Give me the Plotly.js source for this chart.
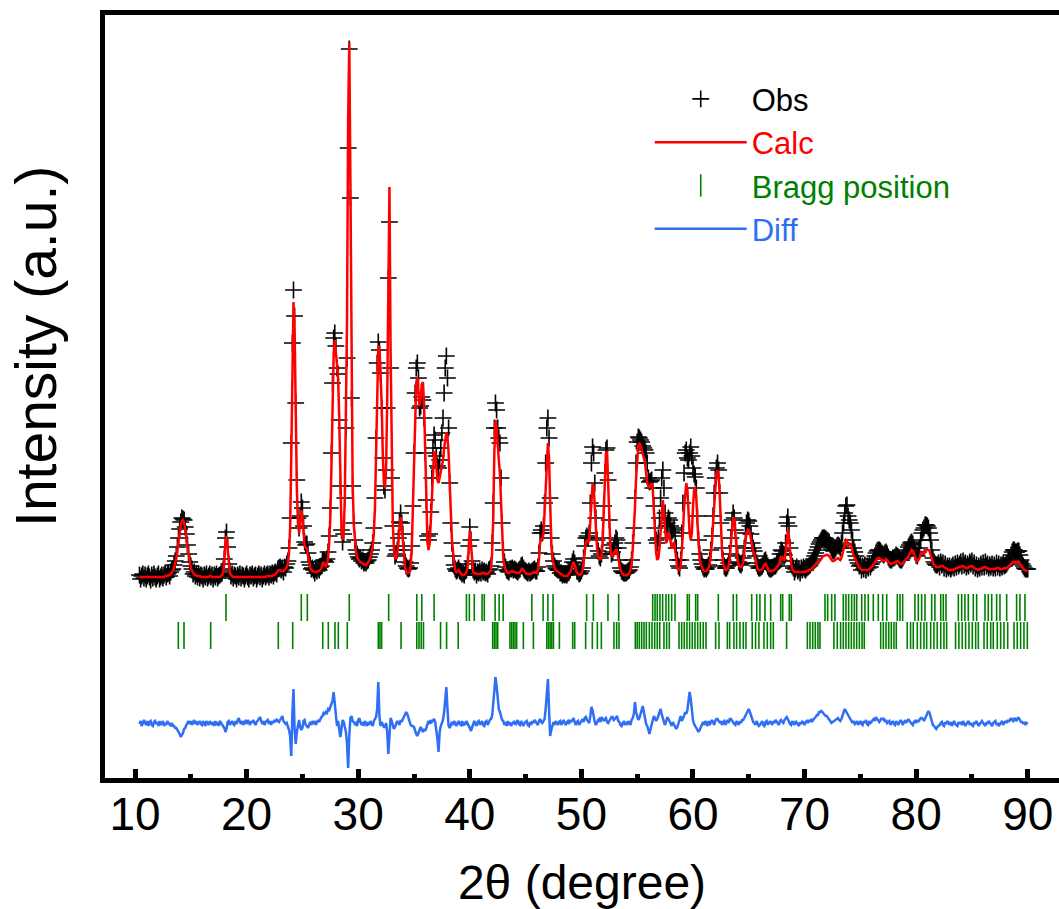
<!DOCTYPE html>
<html><head><meta charset="utf-8">
<script src="https://cdn.plot.ly/plotly-3.0.1.min.js"></script>
<style>html,body{margin:0;padding:0;background:#fff}#chart{width:1059px;height:909px}</style>
</head><body><div id="chart"></div>
<script>
// 2-theta scan: first angle and step (degrees)
const thetaStart = 10.4;
const thetaStep = 0.1;

// Calculated profile (a.u.), one value per step, rows = 1 degree
const calcI = [
1,1,1,1,1,1,
1,1,1,1,1,1,1,1,1,1,
1,1,1,1,1,1,1,2,2,2,
3,3,4,5,7,10,14,20,28,37,
46,53,57,58,56,50,41,31,22,15,
10,7,5,4,3,2,2,2,2,1,
1,1,1,1,1,1,1,2,2,1,
1,1,1,1,1,1,1,2,3,6,
16,36,42,30,12,5,3,2,1,1,
1,1,1,1,1,1,1,1,1,1,
1,1,1,1,1,1,1,1,1,1,
1,1,1,1,1,1,1,1,2,2,
2,2,2,2,3,3,4,5,7,8,
8,7,7,7,8,9,11,15,25,50,
120,220,276,250,165,90,55,45,55,68,
62,45,32,30,30,22,14,10,8,7,
6,6,6,6,7,7,8,10,14,16,
13,12,14,20,35,60,110,170,225,238,
225,205,200,160,95,50,38,45,80,160,
260,460,535,400,200,95,55,36,26,21,
18,17,16,15,14,13,13,13,14,16,
18,21,25,32,45,70,120,190,230,232,
210,175,125,95,90,110,180,320,391,230,
110,55,30,20,20,25,36,52,61,52,
38,20,10,7,5,5,6,12,30,70,
120,170,195,201,190,172,180,194,196,175,
130,75,38,28,34,55,85,115,127,125,
110,98,95,100,108,112,118,130,140,145,
142,125,95,60,38,26,14,8,6,7,
8,6,4,3,3,3,4,6,10,28,
48,35,14,6,5,5,4,4,4,4,
4,5,5,5,4,4,4,5,6,8,
25,60,125,158,150,130,118,105,75,40,
20,12,8,6,5,5,6,7,7,6,
6,6,5,5,5,6,8,10,8,6,
5,4,4,4,4,4,5,6,6,5,
5,8,18,35,40,38,45,65,95,125,
135,120,70,35,20,14,10,8,7,6,
5,4,3,2,2,2,2,2,3,4,
6,9,13,16,13,8,5,4,3,3,
4,8,16,28,36,38,35,38,55,80,
94,92,70,45,30,22,19,18,20,35,
65,100,125,127,95,55,30,21,22,24,
27,28,27,22,14,8,5,4,3,3,
3,3,4,5,8,14,28,45,70,100,
122,132,135,133,128,125,120,115,105,95,
92,90,93,95,88,65,40,25,18,20,
30,50,70,78,65,45,35,38,45,42,
35,30,33,36,28,18,10,8,8,12,
25,45,70,88,95,88,65,45,38,45,
70,88,91,80,55,32,20,14,10,8,
7,7,7,8,10,14,22,35,55,75,
92,104,108,103,82,52,28,15,10,8,
8,9,12,20,35,52,61,58,45,28,
18,13,11,11,12,16,25,38,46,48,
48,45,38,30,26,24,18,12,9,8,
8,8,9,11,14,15,12,9,7,7,
7,7,8,8,9,10,12,14,18,21,
21,18,17,25,40,48,42,25,14,9,
7,6,6,6,6,6,6,6,6,6,
6,6,7,7,8,8,9,10,11,12,
13,14,15,16,17,19,21,22,23,23,
23,23,22,20,18,17,17,18,19,20,
20,19,18,20,25,30,35,38,37,32,
33,35,32,26,22,20,18,15,12,10,
9,8,8,8,8,8,8,8,9,10,
11,12,14,16,18,19,20,20,19,18,
17,17,18,19,18,16,15,14,14,15,
15,16,17,17,16,15,14,14,15,17,
18,19,20,22,24,26,28,27,24,20,
17,16,18,20,24,26,25,24,26,28,
28,28,27,24,19,15,13,12,11,11,
11,11,12,12,12,11,10,9,9,8,
8,8,8,8,9,9,10,10,11,11,
11,12,12,11,10,10,10,11,12,12,
12,11,10,9,9,8,8,9,9,10,
10,11,11,10,10,9,9,9,9,9,
9,9,10,10,10,9,9,9,9,10,
10,10,11,12,13,14,15,16,16,15,
16,16,16,14,12,10,9,8,7,7,
7
];

// Observed intensities (a.u.)
const obsI = [
3,-1,2,4,0,3,
-1,2,4,1,-2,3,0,4,1,-1,
2,4,-1,1,3,0,3,5,1,4,
5,2,6,8,9,13,17,22,31,40,
49,56,60,59,58,51,44,33,24,16,
12,9,4,6,2,4,1,4,0,3,
2,-1,3,1,4,0,2,4,1,3,
-1,3,1,4,0,2,3,4,5,9,
19,40,46,31,14,7,2,4,0,3,
2,-1,3,1,4,0,3,2,-1,2,
4,1,-1,3,2,4,0,2,3,-1,
2,4,1,3,-1,2,4,1,3,4,
1,4,3,5,2,5,6,4,9,10,
11,8,10,6,11,10,14,17,30,60,
135,235,288,262,175,98,60,50,62,76,
70,52,36,33,34,25,16,13,9,10,
8,5,9,7,10,8,11,12,17,18,
17,16,19,26,42,70,125,195,240,245,
232,210,204,158,92,48,36,44,80,150,
220,430,529,380,180,92,55,38,28,24,
21,19,20,17,18,15,16,15,17,18,
21,24,28,35,50,80,140,215,236,228,
205,170,120,92,88,108,170,300,356,210,
100,52,32,22,24,28,40,56,65,55,
44,28,16,12,10,9,10,15,32,72,
125,185,210,215,200,170,172,181,178,160,
125,78,42,38,44,66,100,130,143,138,
122,112,110,118,130,145,160,185,210,222,
200,150,95,55,35,22,13,9,7,8,
10,7,6,4,5,3,7,8,14,32,
51,38,17,8,6,7,3,6,5,7,
5,8,6,7,5,6,4,8,9,12,
35,75,150,175,168,150,140,135,100,55,
28,16,11,8,7,6,9,9,10,8,
9,8,7,6,8,9,12,13,10,8,
7,6,5,7,5,6,7,8,9,7,
7,11,25,45,48,45,52,75,115,150,
160,140,80,40,24,17,12,10,9,8,
8,5,5,3,4,3,4,3,5,6,
8,12,16,19,15,11,7,6,4,5,
7,10,20,32,40,42,40,45,75,115,
131,125,95,60,38,27,22,20,24,40,
72,105,128,130,98,58,33,24,26,30,
35,40,38,30,18,10,7,6,5,5,
5,6,7,8,11,18,35,50,80,115,
136,141,140,138,136,132,130,128,125,115,
100,96,97,98,90,72,50,38,35,40,
60,80,100,108,90,65,52,55,60,58,
52,46,48,50,42,30,18,12,10,18,
45,75,105,125,128,120,118,125,131,122,
110,104,101,90,62,38,24,18,14,11,
9,10,9,11,13,18,28,42,62,85,
100,110,115,108,85,55,30,18,12,10,
10,12,15,24,40,58,65,60,48,32,
22,16,14,13,15,20,30,45,55,58,
57,52,44,35,30,27,22,15,12,10,
10,11,12,14,17,18,15,12,10,9,
9,10,11,12,12,14,16,18,24,28,
27,24,23,35,55,61,52,30,17,12,
10,6,9,11,7,9,5,10,8,11,
9,8,10,11,12,13,15,17,19,22,
25,28,31,34,36,38,40,40,40,39,
38,37,36,33,30,28,27,28,30,32,
33,32,30,35,45,55,65,72,73,62,
58,55,48,38,30,26,22,18,15,12,
13,8,12,9,13,8,12,10,14,11,
14,16,19,22,25,27,28,28,27,25,
24,23,25,26,24,21,19,18,18,20,
20,21,23,22,21,19,18,18,20,22,
24,26,28,31,33,35,36,34,30,26,
23,22,26,30,38,45,48,50,53,53,
52,50,45,38,28,20,16,14,13,13,
15,11,16,13,15,10,14,9,12,10,
12,9,11,13,10,14,11,15,12,14,
16,12,17,13,15,11,14,12,16,14,
17,12,15,10,13,9,12,10,14,11,
15,11,16,12,14,10,13,11,14,10,
13,10,15,11,14,10,13,11,14,12,
13,14,16,18,20,23,26,28,28,26,
26,27,27,23,18,14,12,10,9,9,
9
];

// Difference curve (a.u.)
const diffI = [
0,3,-2,2,4,1,
-1,3,-2,2,3,-1,-2,2,3,0,
2,-2,3,-1,2,3,-2,1,-1,3,
1,-1,-2,1,-2,-2,-4,-4,-6,-7,
-10,-13,-11,-9,-5,-4,-1,2,3,0,
3,-1,2,4,0,3,-1,2,3,0,
-1,3,1,-2,3,1,-1,3,0,-1,
2,-2,3,-1,2,-2,3,1,-1,-2,
-4,-8,-5,2,3,-1,2,3,0,-1,
3,0,4,6,2,0,3,-1,2,3,
0,4,2,-1,3,1,4,2,-1,2,
3,5,7,2,0,3,-1,2,3,4,
0,3,-1,3,1,4,2,5,3,2,
4,6,8,3,2,0,1,-2,-6,-12,
-32,10,35,-5,-20,-8,-3,4,-3,-6,
-4,3,4,-1,-2,-4,-1,2,-1,3,
0,3,-1,2,4,2,5,7,8,11,
10,12,11,15,14,17,18,23,32,20,
5,-2,3,-8,-13,-5,4,2,-2,-8,
-20,-44,-12,6,8,3,2,0,1,-2,
4,6,2,-1,2,-2,3,0,-2,2,
-1,3,1,-2,3,5,7,15,42,8,
-2,2,-1,-3,-3,1,-8,-30,-12,6,
3,-3,-5,-3,1,3,1,-1,4,2,
5,7,9,12,10,6,2,-1,-2,-2,
-3,-7,-10,-12,-9,-5,-3,-6,-8,-5,
-7,-4,1,3,0,4,2,4,5,2,
-5,-15,-28,-8,-2,2,4,12,28,37,
15,-2,-4,-1,2,-1,3,1,-2,1,
3,0,-1,3,-2,2,-1,3,1,-2,
-4,-7,-3,1,3,0,-2,2,3,-1,
2,3,-1,-2,2,3,-1,2,4,5,
8,20,40,47,38,22,15,12,8,4,
3,-1,2,-2,3,-1,2,-2,0,2,
3,-1,2,4,0,-1,3,1,-2,1,
2,3,-1,-2,2,-1,3,1,4,2,
0,-1,3,5,2,1,3,5,15,35,
45,15,-12,-6,-2,2,-1,3,1,-1,
2,3,-1,2,4,1,-1,2,3,0,
4,2,5,6,2,-1,2,3,-1,2,
3,5,2,6,7,4,3,1,8,17,
14,5,2,-1,2,4,5,2,7,5,
3,5,6,2,1,3,5,7,7,4,
5,7,8,3,2,-1,-2,1,2,-1,
2,-1,3,1,-1,4,6,10,22,12,
7,4,6,10,15,18,12,5,0,-2,
-6,-10,-5,1,4,8,6,3,5,8,
12,15,10,5,2,-1,3,7,5,2,
0,-2,2,-1,-3,-5,-3,1,3,8,
3,5,8,12,10,14,22,32,25,12,
4,0,-2,-4,-6,-8,-6,-3,1,2,
-1,3,1,-2,3,-1,2,4,2,-1,
3,5,5,2,1,3,-1,2,3,-1,
2,4,1,5,5,3,2,0,-1,3,
1,-1,3,1,4,4,6,8,10,13,
15,12,8,4,2,1,-1,3,1,-2,
-1,2,3,-1,-2,2,3,-1,2,3,
1,-1,3,1,4,2,0,-1,3,4,
2,1,4,5,7,5,2,0,-1,3,
1,-1,3,1,-1,-2,2,0,3,1,
-1,2,3,1,4,2,5,3,5,6,
7,9,9,12,12,13,12,10,9,8,
8,6,5,3,1,2,2,4,4,5,
6,4,3,5,8,12,15,13,10,9,
7,5,2,1,3,0,1,3,-1,1,
3,0,-1,3,1,4,0,-1,3,1,
2,4,5,3,7,5,4,2,4,6,
4,6,2,4,1,2,3,-1,1,3,
0,-1,3,1,-1,2,4,2,-1,2,
3,1,4,5,3,2,0,-1,2,3,
1,4,2,4,6,6,5,3,6,8,
10,13,11,6,2,-1,-2,-4,-5,-3,
-2,-1,1,2,-1,-2,2,0,3,1,
-1,2,-2,1,3,0,-1,-2,2,0,
2,-1,3,1,-2,0,2,3,-1,1,
-1,-2,2,0,3,1,-2,0,2,3,
1,-1,-2,2,0,3,1,-1,-2,1,
2,3,-1,1,-2,0,2,3,-1,2,
3,1,4,2,5,6,4,3,6,4,
3,6,6,4,2,2,0,2,-1,1,
0
];

// Bragg reflection positions (2-theta, degrees)
const braggPhase1 = [18.15,24.9,25.44,29.2,32.73,35.25,35.7,36.8,39.7,39.96,40.4,41.1,41.3,42.27,42.63,42.99,45.56,46.57,47.0,47.46,
50.47,51.07,52.38,53.34,56.39,56.6,56.8,57.04,57.28,57.58,57.82,58.09,58.39,59.49,59.67,60.24,60.42,62.27,63.61,63.91,
65.26,65.71,66.0,66.45,66.96,67.86,68.04,68.63,68.81,71.83,72.07,72.43,72.72,73.47,73.71,73.95,74.22,74.46,74.67,
75.12,75.41,75.71,76.16,76.61,77.0,77.36,78.31,78.55,78.79,79.89,80.19,80.49,80.79,81.39,81.68,82.2,82.43,82.67,
83.78,84.08,84.37,84.67,85.12,85.42,86.17,86.46,86.77,87.21,87.51,88.11,89.0,89.3,89.75];
const braggPhase2 = [13.88,14.39,16.78,22.84,24.13,26.82,27.32,27.92,28.22,29.02,31.8,31.95,32.1,33.84,35.25,35.45,35.65,35.85,
37.38,37.92,38.96,42.05,42.2,42.35,42.5,43.6,43.75,43.9,44.05,44.2,44.8,45.7,46.9,47.05,47.2,47.35,47.5,48.03,49.22,49.4,
50.38,50.98,51.43,51.79,52.92,53.16,53.37,54.83,55.0,55.19,55.4,55.61,55.82,56.09,56.33,56.57,56.8,57.02,57.4,57.64,57.88,
58.75,58.99,59.22,59.46,59.7,59.94,60.18,60.42,60.66,60.92,61.17,62.03,62.33,63.08,63.29,63.67,63.91,64.21,64.51,64.75,
65.31,65.61,65.91,66.36,66.66,66.96,67.2,68.39,70.25,70.49,70.73,70.96,71.2,71.38,72.63,72.93,73.23,73.47,73.71,73.95,
74.19,74.43,74.67,74.91,75.15,75.35,76.82,77.06,77.3,77.54,77.77,78.01,78.22,79.2,79.5,79.74,80.1,80.4,80.7,80.94,
81.3,81.59,81.89,82.2,82.49,82.73,83.53,83.83,84.13,84.43,84.73,85.03,85.33,85.57,86.08,86.37,86.68,86.91,
87.27,87.57,87.87,88.2,88.77,89.06,89.36,89.66,89.96];

const xTickVals = [10,20,30,40,50,60,70,80,90];
const xTickText = ['10','20','30','40','50','60','70','80','90'];

// display offsets (layout, not data)
const DIFF_OFFSET = -146;
const BRAGG_ROW1 = -29.5;
const BRAGG_ROW2 = -57.5;

const n = Math.min(calcI.length, obsI.length, diffI.length);
const theta = [];
for (let i = 0; i < n; i++) theta.push(Math.round((thetaStart + i * thetaStep) * 100) / 100);

const traces = [
  {x: theta, y: obsI.slice(0, n), type: 'scatter', mode: 'markers', name: 'Obs',
   marker: {symbol: 'cross-thin-open', size: 12, color: '#000', line: {color: '#000', width: 1.6}}},
  {x: theta, y: calcI.slice(0, n), type: 'scatter', mode: 'lines', name: '<span style="color:#ff0000">Calc</span>',
   line: {color: '#ff0000', width: 2.5}},
  {x: braggPhase1, y: braggPhase1.map(() => BRAGG_ROW1), type: 'scatter', mode: 'markers',
   name: '<span style="color:#008000">Bragg position</span>', legendgroup: 'bragg',
   marker: {symbol: 'line-ns-open', size: 19.3, color: '#008000', line: {color: '#008000', width: 1.6}}},
  {x: braggPhase2, y: braggPhase2.map(() => BRAGG_ROW2), type: 'scatter', mode: 'markers',
   name: 'Bragg position (2)', legendgroup: 'bragg', showlegend: false,
   marker: {symbol: 'line-ns-open', size: 19.3, color: '#008000', line: {color: '#008000', width: 1.6}}},
  {x: theta, y: diffI.slice(0, n).map(d => d + DIFF_OFFSET), type: 'scatter', mode: 'lines',
   name: '<span style="color:#2f6ff5">Diff</span>', line: {color: '#2f6ff5', width: 2.5}}
];

const layout = {
  width: 1059, height: 909,
  margin: {l: 105, r: 0, t: 15, b: 131, pad: 0},
  paper_bgcolor: '#fff', plot_bgcolor: '#fff',
  font: {family: '"Liberation Sans", Arial, sans-serif', color: '#000'},
  showlegend: true,
  legend: {x: 0.571, y: 0.925, xanchor: 'left', yanchor: 'top', bgcolor: 'rgba(0,0,0,0)', borderwidth: 0,
           font: {size: 31, color: '#000'}, itemwidth: 92, tracegroupgap: 0},
  xaxis: {range: [7.31, 92.8], showgrid: false, zeroline: false,
          showline: true, linewidth: 5, linecolor: '#000', mirror: true,
          tickmode: 'array', tickvals: xTickVals, ticktext: xTickText,
          ticks: 'inside', ticklen: 9, tickwidth: 5, tickcolor: '#000',
          minor: {dtick: 5, tick0: 5, ticks: 'inside', ticklen: 4, tickwidth: 5, tickcolor: '#000'},
          tickfont: {family: '"Liberation Sans", Arial, sans-serif', size: 46, color: '#000'},
          ticklabelstandoff: -8,
          title: {text: '2θ (degree)', font: {size: 48, color: '#000'}, standoff: 34}},
  yaxis: {range: [-200, 563], showgrid: false, zeroline: false, showticklabels: false, ticks: '',
          showline: true, linewidth: 5, linecolor: '#000'},
  annotations: [
    {text: 'Intensity (a.u.)', xref: 'paper', yref: 'paper', x: -0.0723, y: 0.565,
     xanchor: 'center', yanchor: 'middle', textangle: -90, showarrow: false,
     font: {size: 57, color: '#000', family: '"Liberation Sans", Arial, sans-serif'}}
  ]
};

Plotly.newPlot('chart', traces, layout, {staticPlot: true, displayModeBar: false});
</script>
</body></html>
